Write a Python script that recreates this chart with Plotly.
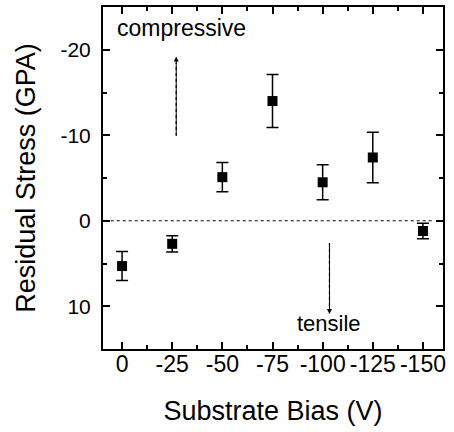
import plotly.graph_objects as go

# Data
bias = [0, -25, -50, -75, -100, -125, -150]
stress = [5.3, 2.7, -5.1, -14.0, -4.5, -7.4, 1.2]
stress_err = [1.7, 0.96, 1.7, 3.1, 2.05, 2.95, 0.9]

x_tickvals = [0, -25, -50, -75, -100, -125, -150]
x_ticktext = ["0", "-25", "-50", "-75", "-100", "-125", "-150"]
y_tickvals = [-20, -10, 0, 10]
y_ticktext = ["-20", "-10", "0", "10"]

FONT = "Liberation Sans, Arial, sans-serif"
X_RANGE = [9.5, -160]
Y_RANGE = [15, -25]

fig = go.Figure()
fig.add_trace(go.Scatter(
    x=bias, y=stress, mode="markers",
    marker=dict(symbol="square", size=10, color="black"),
    error_y=dict(type="data", array=stress_err, visible=True,
                 color="black", thickness=1.5, width=6),
    showlegend=False, hoverinfo="skip",
))
# invisible trace to carry the mirrored (top/right) tick axes
fig.add_trace(go.Scatter(x=bias, y=stress, xaxis="x2", yaxis="y2", mode="markers",
                         marker=dict(opacity=0), showlegend=False, hoverinfo="skip"))

# zero dotted line
fig.add_shape(type="line", xref="paper", yref="y", x0=0.005, x1=0.97, y0=0, y1=0,
              line=dict(color="black", width=1.2, dash="dot"))

# arrows
fig.add_annotation(x=-27, y=-19.2, ax=-27, ay=-9.9, xref="x", yref="y",
                   axref="x", ayref="y", showarrow=True, arrowhead=2,
                   arrowsize=1, arrowwidth=1, arrowcolor="black", text="")
fig.add_annotation(x=-103.4, y=10.9, ax=-103.4, ay=2.6, xref="x", yref="y",
                   axref="x", ayref="y", showarrow=True, arrowhead=2,
                   arrowsize=1, arrowwidth=1, arrowcolor="black", text="")
# re-draw arrow shafts dotted
fig.add_shape(type="line", x0=-27, x1=-27, y0=-9.9, y1=-18.5,
              line=dict(color="white", width=2))
fig.add_shape(type="line", x0=-27, x1=-27, y0=-9.9, y1=-18.5,
              line=dict(color="black", width=1.2, dash="dot"))
fig.add_shape(type="line", x0=-103.4, x1=-103.4, y0=2.6, y1=10.2,
              line=dict(color="white", width=2))
fig.add_shape(type="line", x0=-103.4, x1=-103.4, y0=2.6, y1=10.2,
              line=dict(color="black", width=1.2, dash="dot"))

fig.add_annotation(x=-29.5, y=-22.6, text="compressive", showarrow=False,
                   font=dict(family=FONT, size=23, color="black"))
fig.add_annotation(x=-103.1, y=12.0, text="tensile", showarrow=False,
                   font=dict(family=FONT, size=22, color="black"))

tick_common = dict(ticks="inside", ticklen=7, tickwidth=2, tickcolor="black",
                   showline=True, linewidth=2, linecolor="black",
                   showgrid=False, zeroline=False)
x_minor = dict(dtick=12.5, tick0=0, ticks="inside", ticklen=4, tickwidth=1.5, tickcolor="black")
y_minor = dict(dtick=5, tick0=0, ticks="inside", ticklen=4, tickwidth=1.5, tickcolor="black")

fig.update_layout(
    xaxis=dict(
        range=X_RANGE, tickmode="array", tickvals=x_tickvals, ticktext=x_ticktext,
        minor=x_minor, ticklabelstandoff=-7,
        tickfont=dict(family=FONT, size=23, color="black"),
        title=dict(text="Substrate Bias (V)", font=dict(family=FONT, size=27, color="black"),
                   standoff=26),
        **tick_common,
    ),
    yaxis=dict(
        range=Y_RANGE, tickmode="array", tickvals=y_tickvals, ticktext=y_ticktext,
        minor=y_minor, ticklabelstandoff=6,
        tickfont=dict(family=FONT, size=21, color="black"),
        title=dict(text="Residual Stress (GPA)", font=dict(family=FONT, size=27, color="black"),
                   standoff=17),
        **tick_common,
    ),
    xaxis2=dict(
        range=X_RANGE, overlaying="x", side="top", anchor="y2",
        tickmode="array", tickvals=x_tickvals, showticklabels=False,
        minor=x_minor, **tick_common,
    ),
    yaxis2=dict(
        range=Y_RANGE, overlaying="y", side="right", anchor="x2",
        tickmode="array", tickvals=y_tickvals, showticklabels=False,
        minor=y_minor, **tick_common,
    ),
    width=454, height=432,
    margin=dict(l=103, r=11, t=7, b=83),
    paper_bgcolor="white", plot_bgcolor="white",
)

fig.write_html("out.html", config={"displayModeBar": False},
               post_script="document.body.style.margin='0';document.body.style.overflow='hidden';")
